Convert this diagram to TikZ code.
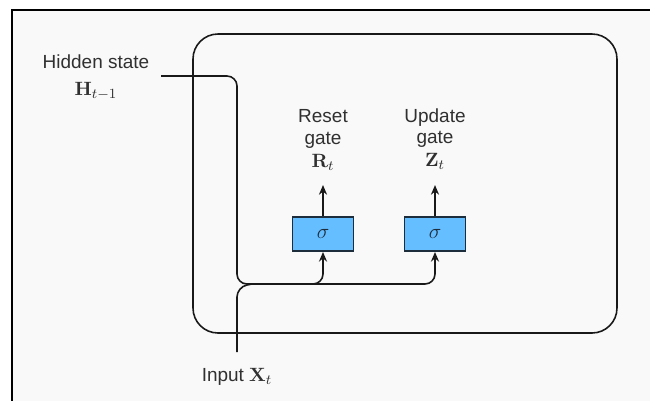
\documentclass[tikz,border=0pt]{standalone}
\usepackage[no-math]{fontspec}
\setmainfont{Liberation Sans}
\usetikzlibrary{arrows.meta}
\definecolor{bg}{HTML}{F9F9F9}
\definecolor{gatefill}{HTML}{64BEFF}
\definecolor{gateborder}{HTML}{1E2D3C}
\definecolor{txt}{HTML}{303030}
\begin{document}
\begin{tikzpicture}[x=0.02cm,y=-0.02cm,
  line/.style={draw=black!90, line width=0.9pt},
  arr/.style={line, -{Stealth[length=5.5pt,width=4.6pt]}},
  gate/.style={draw=gateborder, fill=gatefill, line width=1.1pt, minimum width=1.22cm, minimum height=0.68cm, inner sep=0pt, font=\fontsize{13}{13}\selectfont, text=gateborder},
  lbl/.style={font=\fontsize{10.8}{12.2}\selectfont, text=txt, align=center, inner sep=0pt}]
\useasboundingbox (0,0) rectangle (650,400);
\fill[white] (0,0) rectangle (650,400);
\begin{scope}
\clip (0,0) rectangle (650,400);
\draw[fill=bg, line width=1.4pt] (12,10) rectangle (670,420);
\end{scope}
\draw[line, rounded corners=0.5cm] (193,34) rectangle (617,333);
% gates
\node[gate] (g1) at (323,234) {$\sigma$};
\node[gate] (g2) at (435,234) {$\sigma$};
\node[lbl] (rl) at (323,129) {Reset\\gate};
\node[lbl] (rt) at (323,162) {$\mathbf{R}_t$};
\node[lbl] (ul) at (435,128) {Update\\gate};
\node[lbl] (zt) at (435,161) {$\mathbf{Z}_t$};
\draw[arr] (g1.north) -- ++(0,-31);
\draw[arr] (g2.north) -- ++(0,-31);
% hidden state
\node[lbl] (hid) at (96,62) {Hidden state};
\node[lbl] (ht) at (96,91) {$\mathbf{H}_{t-1}$};
\node[lbl] (inp) at (237,377) {Input $\mathbf{X}_t$};
\coordinate (hs) at (161,76);
\coordinate (xs) at (237,352);
\coordinate (j) at (252,284);
\draw[line, rounded corners=0.2cm] (hs) -- (237,76) -- (237,284) -- (j);
\draw[line, rounded corners=0.2cm] (xs) -- (237,287) -- (j);
\draw[arr, rounded corners=0.2cm] (j) -| (g1.south);
\draw[arr, rounded corners=0.2cm] (j) -| (g2.south);
\end{tikzpicture}
\end{document}
